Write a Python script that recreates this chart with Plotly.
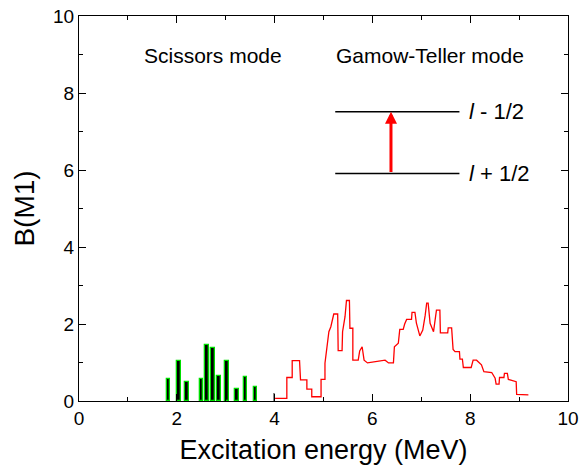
import plotly.graph_objects as go

# Scissors mode strengths (green/black sticks)
sc_energy = [1.83, 2.045, 2.21, 2.51, 2.62, 2.74, 2.86, 3.03, 3.23, 3.41, 3.61]
sc_bm1 = [0.56, 1.04, 0.50, 0.58, 1.45, 1.37, 0.65, 1.04, 0.32, 0.62, 0.36]

# small grey sticks
grey_energy = [2.0, 3.0, 4.0]
grey_bm1 = [0.2, 0.1, 0.2]

# Gamow-Teller mode (red histogram-like line)
gt_energy = [4.01, 4.25, 4.25, 4.36, 4.36, 4.51, 4.53, 4.66, 4.66, 4.76, 4.76, 4.95, 4.95,
             5.03, 5.03, 5.11, 5.15, 5.21, 5.29, 5.30, 5.38, 5.39, 5.44, 5.47, 5.53, 5.54,
             5.60, 5.60, 5.71, 5.74, 5.79, 5.83, 5.90, 6.26, 6.33, 6.43, 6.45, 6.53, 6.56,
             6.63, 6.66, 6.70, 6.80, 6.81, 6.87, 6.90, 6.97, 7.03, 7.08, 7.11, 7.14, 7.18,
             7.25, 7.28, 7.31, 7.38, 7.39, 7.54, 7.55, 7.62, 7.65, 7.69, 7.78, 7.79, 7.84,
             7.86, 8.02, 8.06, 8.13, 8.23, 8.28, 8.44, 8.51, 8.53, 8.59, 8.60, 8.69, 8.70,
             8.76, 8.78, 8.94, 8.95, 9.19]
gt_bm1 = [0.07, 0.07, 0.61, 0.61, 1.05, 1.05, 0.55, 0.55, 0.31, 0.31, 0.11, 0.11, 0.56,
          0.56, 0.98, 1.80, 1.93, 2.26, 2.26, 1.31, 1.31, 1.80, 2.19, 2.61, 2.61, 1.89,
          1.89, 1.06, 1.06, 1.30, 1.41, 1.06, 0.99, 1.06, 0.99, 0.99, 1.41, 1.50, 1.86,
          1.86, 2.00, 2.12, 2.12, 2.30, 2.30, 2.02, 1.69, 1.84, 2.23, 2.54, 2.54, 2.02,
          1.80, 2.11, 2.36, 2.36, 1.77, 1.77, 1.90, 1.90, 1.34, 1.28, 1.28, 1.09, 1.09,
          0.87, 0.87, 1.06, 1.06, 0.94, 0.76, 0.74, 0.59, 0.44, 0.44, 0.61, 0.61, 0.72,
          0.72, 0.56, 0.50, 0.17, 0.16]

# inset level scheme
level_x = [5.24, 7.78]
level_lower = 5.91
level_upper = 7.51
arrow_x = 6.38
level_labels = ["<i>l</i> - 1/2", "<i>l</i> + 1/2"]
label_x = 7.93

x_ticks = [0, 2, 4, 6, 8, 10]
y_ticks = [0, 2, 4, 6, 8, 10]

FONT = "Liberation Sans, Arial, sans-serif"

fig = go.Figure()

fig.add_trace(go.Bar(x=grey_energy, y=grey_bm1, width=0.025,
                     marker=dict(color="#888888", line=dict(width=0)),
                     showlegend=False))
fig.add_trace(go.Bar(x=sc_energy, y=sc_bm1, width=0.07,
                     marker=dict(color="black", line=dict(color="#00dd00", width=1.3)),
                     showlegend=False))

fig.add_trace(go.Scatter(x=gt_energy, y=gt_bm1, mode="lines",
                         line=dict(color="red", width=1.3), showlegend=False))

for yl in [level_upper, level_lower]:
    fig.add_trace(go.Scatter(x=level_x, y=[yl, yl], mode="lines",
                             line=dict(color="black", width=1.5), showlegend=False))

fig.add_annotation(x=arrow_x, y=level_upper, ax=arrow_x, ay=level_lower,
                   xref="x", yref="y", axref="x", ayref="y",
                   showarrow=True, arrowhead=2, arrowsize=0.8, arrowwidth=3,
                   arrowcolor="red", text="")

for lab, yl in zip(level_labels, [level_upper, level_lower]):
    fig.add_annotation(x=label_x, y=yl, xref="x", yref="y", text=lab,
                       showarrow=False, xanchor="left", yanchor="middle",
                       font=dict(family=FONT, size=22, color="black"))

fig.add_annotation(x=2.73, y=8.98, xref="x", yref="y", text="Scissors mode",
                   showarrow=False, font=dict(family=FONT, size=21, color="black"))
fig.add_annotation(x=7.17, y=8.98, xref="x", yref="y", text="Gamow-Teller mode",
                   showarrow=False, font=dict(family=FONT, size=21, color="black"))

axis_common = dict(showline=True, linecolor="black", linewidth=1, mirror="ticks",
                   ticks="inside", ticklen=7, tickwidth=1, tickcolor="black",
                   showgrid=False, zeroline=False,
                   tickfont=dict(family=FONT, size=19, color="black"),
                   minor=dict(ticks="inside", ticklen=4, tickwidth=1, tickcolor="black", dtick=1))

fig.update_xaxes(range=[0, 10], tickvals=x_ticks, ticktext=[str(v) for v in x_ticks],
                 title=dict(text="Excitation energy (MeV)", font=dict(family=FONT, size=27, color="black"),
                            standoff=12),
                 automargin=False, **axis_common)
fig.update_yaxes(range=[0, 10], tickvals=y_ticks, ticktext=[str(v) for v in y_ticks],
                 title=dict(text="B(M1)", font=dict(family=FONT, size=28, color="black"),
                            standoff=10),
                 automargin=False, **axis_common)

fig.update_layout(width=579, height=473,
                  margin=dict(l=79, r=11, t=16, b=72, autoexpand=False),
                  plot_bgcolor="white", paper_bgcolor="white", bargap=0,
                  barmode="overlay", showlegend=False)

fig.write_html("out.html")
